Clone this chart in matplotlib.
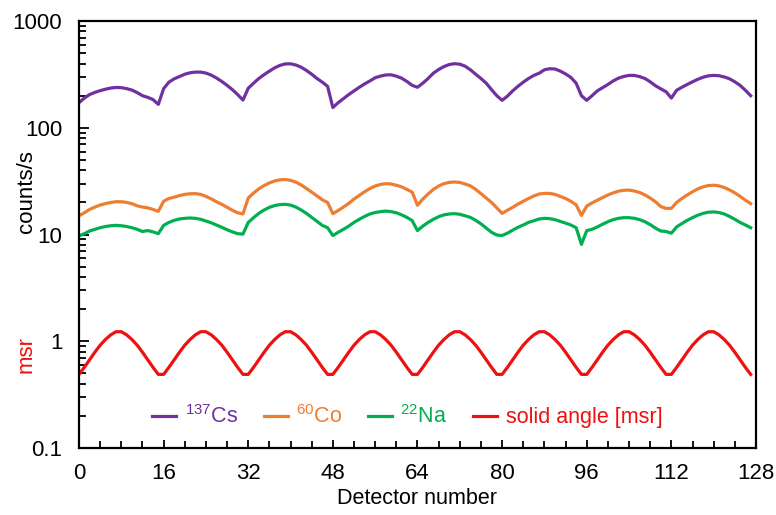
import matplotlib
matplotlib.use("Agg")
import matplotlib.pyplot as plt
from matplotlib.ticker import MultipleLocator, LogLocator, FixedLocator, FixedFormatter, NullFormatter

plt.rcParams['font.family'] = ['Liberation Sans', 'DejaVu Sans']
plt.rcParams['mathtext.default'] = 'regular'

# detector index 0..127
detectors = list(range(128))

cs137 = [172, 190, 205, 215, 223, 230, 236, 239, 238, 233, 226, 214, 200, 193, 184, 166,
         233, 268, 288, 303, 318, 328, 333, 333, 326, 312, 293, 272, 250, 228, 205, 182,
         235, 262, 290, 315, 340, 365, 385, 397, 398, 388, 370, 345, 318, 290, 268, 245,
         155, 172, 188, 205, 222, 240, 258, 275, 295, 305, 313, 314, 305, 292, 272, 250,
         240, 262, 290, 325, 352, 375, 392, 399, 395, 378, 350, 318, 290, 262, 228, 200,
         181, 198, 222, 245, 268, 290, 310, 325, 350, 358, 356, 340, 320, 297, 262, 200,
         181, 200, 222, 238, 255, 275, 292, 303, 310, 310, 302, 290, 270, 248, 232, 218,
         190, 225, 240, 255, 270, 285, 298, 307, 310, 308, 300, 288, 270, 250, 225, 200]

co60 = [15.0, 16.0, 17.2, 18.1, 18.9, 19.5, 20.0, 20.3, 20.3, 20.0, 19.5, 18.6, 18.1, 17.8, 17.2, 16.5,
        20.5, 21.8, 22.4, 23.2, 23.8, 24.1, 24.2, 23.8, 22.8, 21.6, 20.3, 19.2, 18.0, 16.9, 16.0, 15.6,
        22.0, 24.5, 26.8, 28.8, 30.5, 31.8, 32.6, 32.8, 32.2, 31.0, 29.2, 27.0, 25.0, 23.0, 21.2, 20.0,
        15.7, 16.8, 18.1, 19.6, 21.5, 23.3, 25.2, 27.0, 28.5, 29.5, 30.0, 29.8, 29.0, 28.0, 26.5, 25.0,
        18.8, 21.5, 24.0, 26.5, 28.5, 30.0, 30.8, 31.1, 30.8, 29.8, 28.6, 26.5, 24.2, 22.0, 20.0, 17.8,
        15.8, 16.9, 18.0, 19.3, 20.5, 21.8, 23.0, 24.0, 24.3, 24.3, 23.8, 22.8, 21.8, 20.5, 19.0, 15.1,
        18.5, 19.8, 21.0, 22.2, 23.5, 24.6, 25.5, 26.0, 26.1, 25.6, 24.8, 23.5, 22.0, 20.3, 18.3, 17.6,
        17.6, 20.0, 21.8, 23.5, 25.2, 26.8, 28.0, 28.8, 29.0, 28.6, 27.6, 26.2, 24.6, 22.8, 21.0, 19.5]

na22 = [9.7, 10.2, 10.8, 11.2, 11.6, 11.9, 12.1, 12.2, 12.1, 11.9, 11.6, 11.2, 10.7, 10.9, 10.6, 10.2,
        12.2, 13.0, 13.6, 14.0, 14.2, 14.3, 14.2, 13.9, 13.4, 12.9, 12.3, 11.7, 11.1, 10.6, 10.2, 10.1,
        13.0, 14.4, 15.8, 17.0, 18.0, 18.7, 19.1, 19.2, 18.9, 18.1, 17.0, 15.8, 14.5, 13.3, 12.2, 11.6,
        9.8, 10.5, 11.2, 12.0, 13.0, 13.9, 14.8, 15.6, 16.1, 16.4, 16.6, 16.4, 16.0, 15.3, 14.5, 13.5,
        10.9, 12.0, 13.0, 13.9, 14.7, 15.3, 15.6, 15.7, 15.5, 15.0, 14.5, 13.6, 12.6, 11.5, 10.5, 9.9,
        9.8, 10.3, 11.0, 11.7, 12.3, 13.0, 13.5, 14.0, 14.2, 14.1, 13.8, 13.3, 12.8, 12.3, 11.6, 8.1,
        10.9, 11.2, 11.8, 12.5, 13.2, 13.8, 14.2, 14.4, 14.4, 14.2, 13.8, 13.2, 12.4, 11.5, 10.8, 10.7,
        10.3, 11.8, 12.7, 13.6, 14.4, 15.2, 15.8, 16.2, 16.3, 16.1, 15.6, 14.8, 13.9, 13.0, 12.3, 11.6]

solid_angle = [0.49, 0.57, 0.67, 0.79, 0.92, 1.04, 1.15, 1.23, 1.23, 1.15, 1.04, 0.92, 0.79, 0.67, 0.57, 0.49,
               0.49, 0.57, 0.67, 0.79, 0.92, 1.04, 1.15, 1.23, 1.23, 1.15, 1.04, 0.92, 0.79, 0.67, 0.57, 0.49,
               0.49, 0.57, 0.67, 0.79, 0.92, 1.04, 1.15, 1.23, 1.23, 1.15, 1.04, 0.92, 0.79, 0.67, 0.57, 0.49,
               0.49, 0.57, 0.67, 0.79, 0.92, 1.04, 1.15, 1.23, 1.23, 1.15, 1.04, 0.92, 0.79, 0.67, 0.57, 0.49,
               0.49, 0.57, 0.67, 0.79, 0.92, 1.04, 1.15, 1.23, 1.23, 1.15, 1.04, 0.92, 0.79, 0.67, 0.57, 0.49,
               0.49, 0.57, 0.67, 0.79, 0.92, 1.04, 1.15, 1.23, 1.23, 1.15, 1.04, 0.92, 0.79, 0.67, 0.57, 0.49,
               0.49, 0.57, 0.67, 0.79, 0.92, 1.04, 1.15, 1.23, 1.23, 1.15, 1.04, 0.92, 0.79, 0.67, 0.57, 0.49,
               0.49, 0.57, 0.67, 0.79, 0.92, 1.04, 1.15, 1.23, 1.23, 1.15, 1.04, 0.92, 0.79, 0.67, 0.57, 0.49]

labels = [r'$^{137}$Cs', r'$^{60}$Co', r'$^{22}$Na', 'solid angle [msr]']
colors = ['#7030A0', '#ED7D31', '#00B050', '#EE1111']
xticks = [0, 16, 32, 48, 64, 80, 96, 112, 128]
yticks = [0.1, 1, 10, 100, 1000]
ytick_labels = ['0.1', '1', '10', '100', '1000']

fig = plt.figure(figsize=(7.76, 5.15), dpi=100)
ax = fig.add_axes([0.1018, 0.130, 0.8724, 0.829])

for series, lab, col in zip([cs137, co60, na22, solid_angle], labels, colors):
    ax.plot(detectors, series, color=col, lw=2.3, label=lab)

ax.set_yscale('log')
ax.set_xlim(0, 128)
ax.set_ylim(0.1, 1000)

ax.xaxis.set_major_locator(FixedLocator(xticks))
ax.xaxis.set_minor_locator(MultipleLocator(4))
ax.yaxis.set_major_locator(FixedLocator(yticks))
ax.yaxis.set_major_formatter(FixedFormatter(ytick_labels))
ax.yaxis.set_minor_locator(LogLocator(base=10, subs=range(2, 10)))
ax.yaxis.set_minor_formatter(NullFormatter())

ax.tick_params(axis='both', which='both', direction='in', top=False, right=False,
               labelsize=16, width=1.3)
ax.tick_params(axis='x', which='major', length=6, pad=11)
ax.tick_params(axis='x', which='minor', length=5)
ax.tick_params(axis='y', which='major', length=7, pad=12)
ax.tick_params(axis='y', which='minor', length=5)
for sp in ax.spines.values():
    sp.set_linewidth(1.6)

ax.set_xlabel('Detector number', fontsize=15.5, labelpad=3)
fig.text(0.034, 0.629, 'counts/s', rotation=90, fontsize=16, ha='center', va='center')
fig.text(0.034, 0.312, 'msr', rotation=90, fontsize=16, ha='center', va='center', color=colors[3])

ax.legend(loc='center', bbox_to_anchor=(0.485, 0.073), ncol=4, frameon=False,
          fontsize=15.5, handlelength=1.1, handletextpad=0.4, columnspacing=1.2,
          labelcolor='linecolor')

fig.savefig('out.png', dpi=100)
